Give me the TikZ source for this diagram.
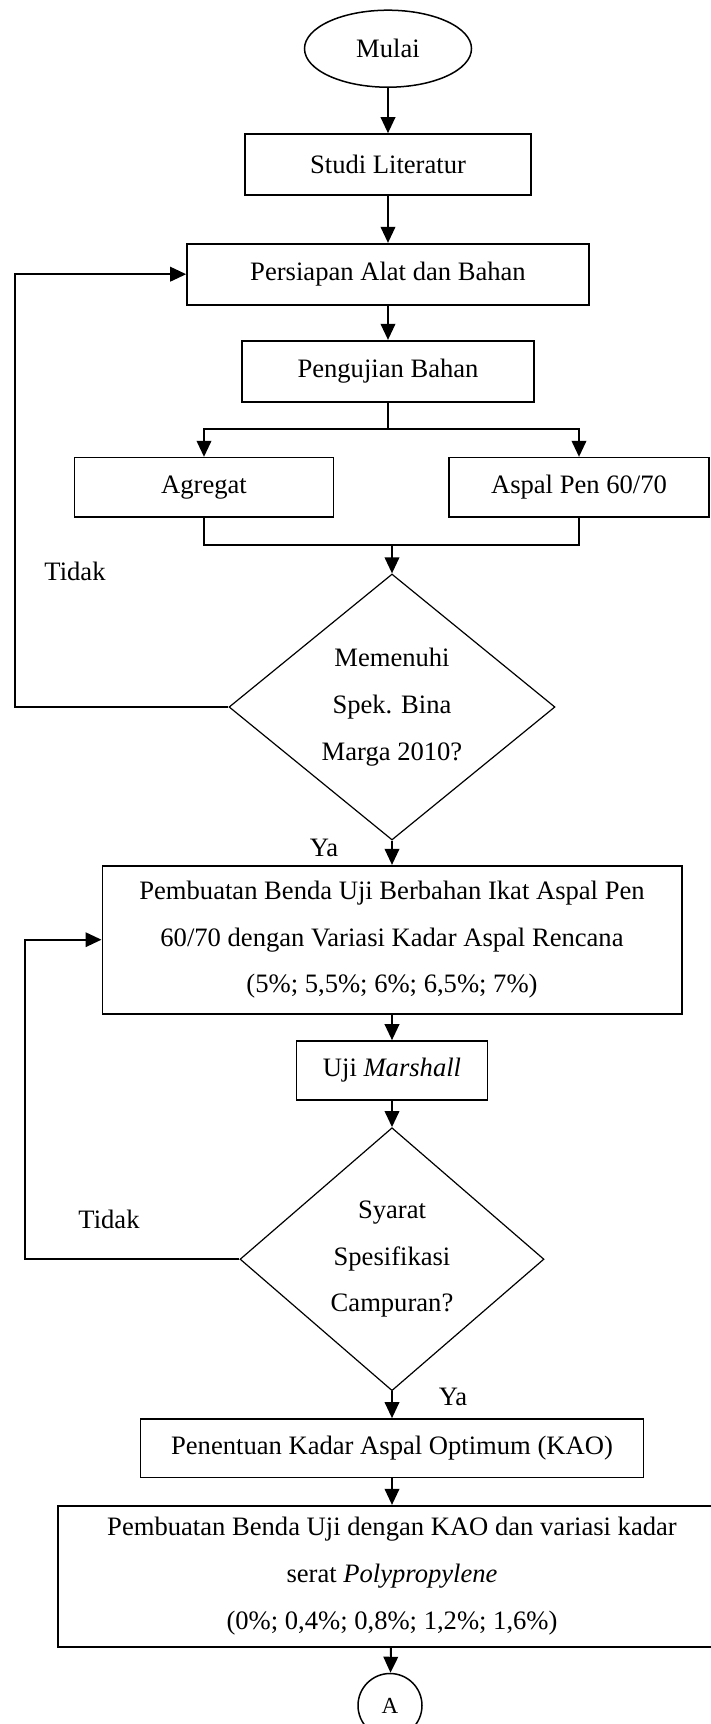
\documentclass[tikz,border=0pt]{standalone}
\usepackage{fontspec}
\setmainfont{Liberation Serif}
\usetikzlibrary{positioning,arrows.meta,shapes.geometric}

\newcommand{\flowfont}{\fontsize{26.6}{46.7}\selectfont}

\begin{document}
\begin{tikzpicture}[x=1pt,y=-1pt,font=\flowfont,
    box/.style={draw,line width=1.6pt,rectangle,inner sep=0pt,align=center},
    decision/.style={draw,line width=1.2pt,diamond,aspect=1,inner sep=0pt,align=center},
    term/.style={draw,line width=1.5pt,ellipse,inner sep=0pt},
    connector/.style={draw,line width=1.5pt,circle,inner sep=0pt,minimum size=64,font=\fontsize{23}{26}\selectfont},
    note/.style={inner sep=0pt},
    line/.style={line width=2pt},
    arrow/.style={line width=2pt,-{Triangle[length=16pt,width=14.5pt]}}]
    \useasboundingbox (0,0) rectangle (710,1724);
    %Start
    \node[term,minimum width=167,minimum height=77] (mulai) at (388,48.7) {Mulai};
    %Literature
    \node[box,minimum width=285.5,minimum height=61] (studi) at (388,164.5) {Studi Literatur};
    %Preparation
    \node[box,minimum width=402,minimum height=61] (persiapan) at (388,274.2) {Persiapan Alat dan Bahan};
    %Material tests
    \node[box,minimum width=291.5,minimum height=61] (pengujian) at (388,371.2) {Pengujian Bahan};
    \node[box,minimum width=259,minimum height=59.3] (agregat) at (204,487.3) {Agregat};
    \node[box,minimum width=260,minimum height=59.3] (aspal) at (579,487.3) {Aspal Pen 60/70};
    %Spec check
    \node[decision,minimum width=326,minimum height=266] (spek) at (392,707) {Memenuhi\\Spek. Bina\\Marga 2010?};
    %Specimens
    \node[box,minimum width=579.4,minimum height=148] (benda) at (392,939.7) {Pembuatan Benda Uji Berbahan Ikat Aspal Pen\\60/70 dengan Variasi Kadar Aspal Rencana\\(5\%; 5,5\%; 6\%; 6,5\%; 7\%)};
    \node[box,minimum width=190.7,minimum height=59] (marshall) at (392,1070.5) {Uji \textit{Marshall}};
    %Mix check
    \node[decision,minimum width=304,minimum height=263] (syarat) at (392,1259.2) {Syarat\\Spesifikasi\\Campuran?};
    %Optimum
    \node[box,minimum width=503,minimum height=58.7] (kao) at (392,1448.3) {Penentuan Kadar Aspal Optimum (KAO)};
    \node[box,minimum width=667.6,minimum height=141] (serat) at (392,1576.2) {Pembuatan Benda Uji dengan KAO dan variasi kadar\\serat \textit{Polypropylene}\\(0\%; 0,4\%; 0,8\%; 1,2\%; 1,6\%)};
    \node[connector] (konektor) at (390,1705.5) {A};
    %Labels
    \node[note] (tidak1) at (75,571.7) {Tidak};
    \node[note] (ya1) at (324,848.3) {Ya};
    \node[note] (tidak2) at (109,1219.3) {Tidak};
    \node[note] (ya2) at (453,1397.3) {Ya};

    %Main line
    \draw[arrow] (mulai) -- (studi);
    \draw[arrow] (studi) -- (persiapan);
    \draw[arrow] (persiapan) -- (pengujian);
    %Split
    \coordinate (split) at (388,429.3);
    \draw[line] (pengujian) -- (split);
    \draw[arrow] (split) -| (agregat);
    \draw[arrow] (split) -| (aspal);
    %Merge
    \coordinate (merge) at (392,545.3);
    \draw[line] (agregat) |- (merge) -| (aspal);
    \draw[arrow] (merge) -- (spek);
    %Tidak loop
    \coordinate (back1) at (15,707);
    \draw[arrow] (spek) -- (back1) |- (persiapan);
    \draw[arrow] (spek) -- (benda);
    \draw[arrow] (benda) -- (marshall);
    \draw[arrow] (marshall) -- (syarat);
    %Tidak loop
    \coordinate (back2) at (25,1259.2);
    \draw[arrow] (syarat) -- (back2) |- (benda);
    \draw[arrow] (syarat) -- (kao);
    \draw[arrow] (kao) -- (serat);
    \draw[arrow] (serat) -- (konektor);
\end{tikzpicture}
\end{document}
